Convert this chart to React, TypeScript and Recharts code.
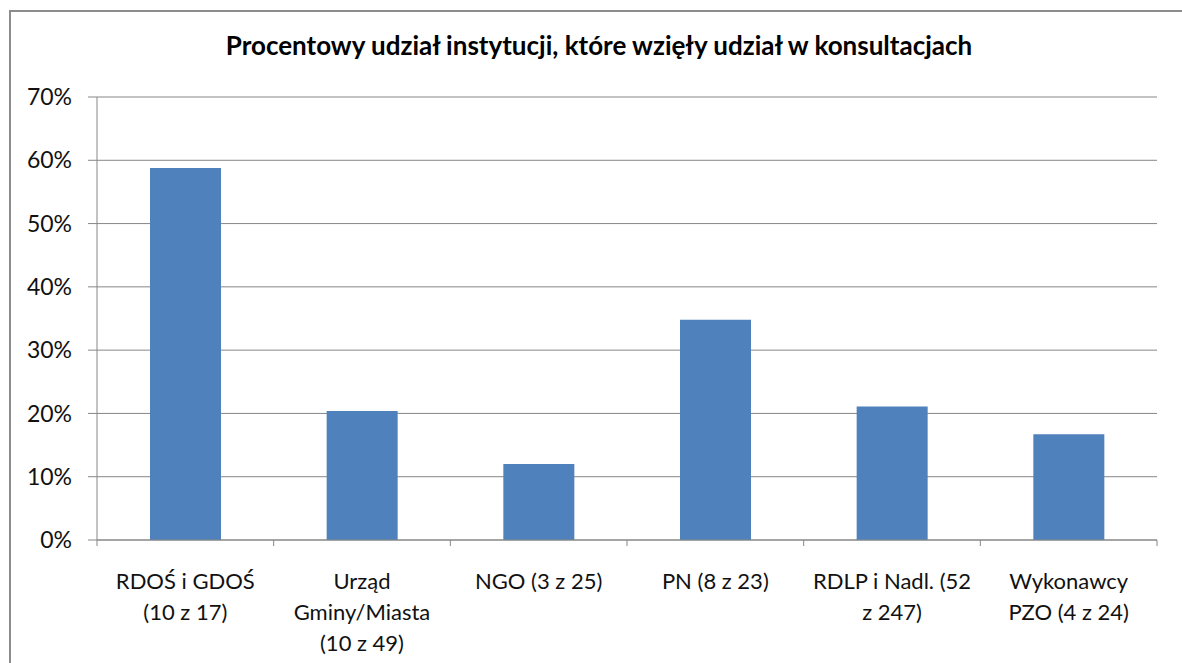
import React from "react";
import { BarChart, Bar, XAxis, YAxis, CartesianGrid } from "recharts";

const categories = [
  "RDOŚ i GDOŚ\n(10 z 17)",
  "Urząd\nGminy/Miasta\n(10 z 49)",
  "NGO (3 z 25)",
  "PN (8 z 23)",
  "RDLP i Nadl. (52\nz 247)",
  "Wykonawcy\nPZO (4 z 24)",
];
const shares = [58.8, 20.4, 12.0, 34.8, 21.1, 16.7];
const yTicks = [0, 10, 20, 30, 40, 50, 60, 70];

const data = categories.map((name, i) => ({ name, share: shares[i] }));

const FONT = "Lato, 'Open Sans', sans-serif";
const GREY = "#878787";

const CategoryTick = (props: any) => {
  const { x, y, payload, index } = props;
  const half = payload?.offset ?? 88;
  const lines = String(payload.value).split("\n");
  return (
    <g>
      <line x1={x - half} x2={x - half} y1={y} y2={y + 6} stroke={GREY} />
      {index === categories.length - 1 && (
        <line x1={x + half} x2={x + half} y1={y} y2={y + 6} stroke={GREY} />
      )}
      <text textAnchor="middle" fontFamily={FONT} fontSize={22} fill="#111">
        {lines.map((l, i) => (
          <tspan key={i} x={x} y={y + 49 + i * 31}>
            {l}
          </tspan>
        ))}
      </text>
    </g>
  );
};

export default function App() {
  return (
    <div
      style={{
        position: "absolute",
        left: 0,
        top: 0,
        width: 1182,
        height: 663,
        overflow: "hidden",
        background: "#fff",
        fontFamily: FONT,
      }}
    >
      <div
        style={{
          position: "absolute",
          left: 9,
          top: 10,
          width: 1200,
          height: 700,
          border: "2px solid #8c8c8c",
        }}
      />
      <div
        style={{
          position: "absolute",
          left: 9,
          top: 32,
          width: 1180,
          textAlign: "center",
          fontWeight: 700,
          fontSize: 26,
          lineHeight: "26px",
          color: "#000",
        }}
      >
        Procentowy udział instytucji, które wzięły udział w konsultacjach
      </div>
      <div style={{ position: "absolute", left: 0, top: 0 }}>
        <BarChart
          width={1182}
          height={663}
          data={data}
          margin={{ top: 97, right: 25, bottom: 0, left: 0 }}
          barCategoryGap="30%"
        >
          <CartesianGrid vertical={false} stroke={GREY} strokeWidth={1} />
          <XAxis
            dataKey="name"
            interval={0}
            height={123}
            axisLine={{ stroke: GREY }}
            tickLine={false}
            tickSize={0}
            tickMargin={0}
            tick={<CategoryTick />}
          />
          <YAxis
            domain={[0, 70]}
            ticks={yTicks}
            width={97}
            tickFormatter={(v: number) => `${v}%`}
            axisLine={{ stroke: GREY }}
            tickLine={{ stroke: GREY }}
            tickSize={9}
            tickMargin={16}
            tick={{ fontFamily: FONT, fontSize: 23, fill: "#111" }}
          />
          <Bar dataKey="share" fill="#4F81BD" isAnimationActive={false} />
        </BarChart>
      </div>
    </div>
  );
}
